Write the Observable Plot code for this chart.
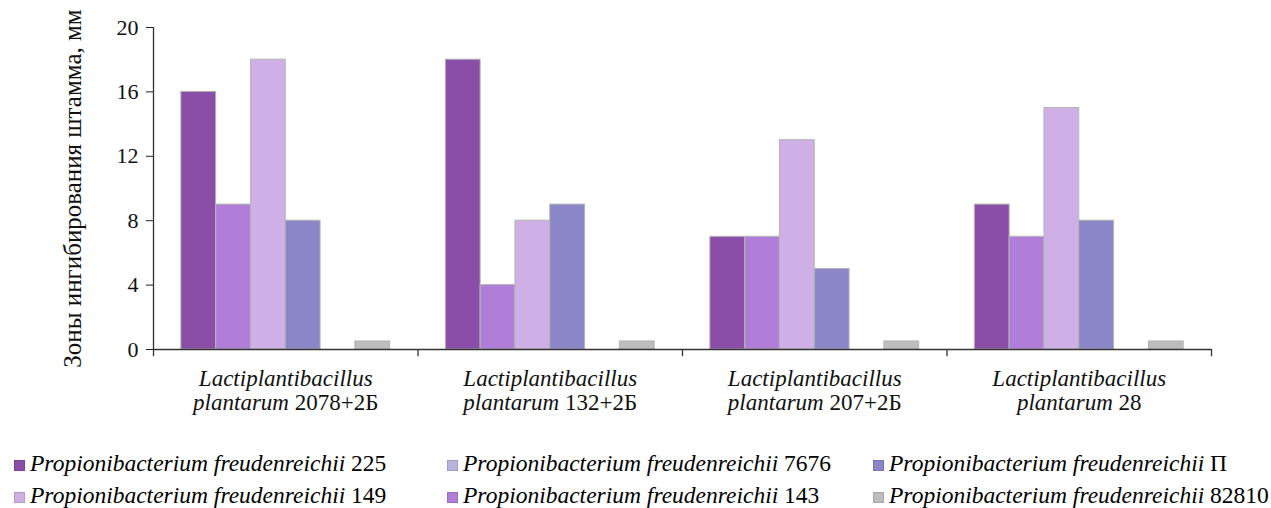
<!DOCTYPE html>
<html><head><meta charset="utf-8">
<script src="https://cdn.jsdelivr.net/npm/d3@7"></script>
<script src="https://cdn.jsdelivr.net/npm/@observablehq/plot@0.6"></script>
<style>
html,body{margin:0;padding:0;background:#fff;overflow:hidden;}
body{font-family:"Liberation Serif","Times New Roman",serif;color:#000;}
#chart{width:1271px;}
.legend{display:grid;grid-template-columns:433px 426px auto;padding-left:14px;padding-top:15px;font-size:23.5px;line-height:32px;}
.legend .item{white-space:nowrap;}
.legend .sw{display:inline-block;width:11px;height:11px;box-sizing:border-box;border:1px solid rgba(0,0,0,0.12);margin-right:5px;vertical-align:0px;}
.legend i{font-style:italic;}
</style></head><body>
<div id="chart"></div>
<script>
const groups = [
  "Lactiplantibacillus\nplantarum 2078+2Б",
  "Lactiplantibacillus\nplantarum 132+2Б",
  "Lactiplantibacillus\nplantarum 207+2Б",
  "Lactiplantibacillus\nplantarum 28"
];
const series = ["225", "143", "149", "П", "7676", "82810"];
const seriesColors = ["#8a4ea8", "#b07ed8", "#cfb0e6", "#8a86c8", "#b8b4e0", "#bdbdbd"];
const v225 = [16, 18, 7, 9];
const v143 = [9, 4, 7, 7];
const v149 = [18, 8, 13, 15];
const vP = [8, 9, 5, 8];
const v7676 = [0, 0, 0, 0];
const v82810 = [0.5, 0.5, 0.5, 0.5];
const yTicks = [0, 4, 8, 12, 16, 20];
const legendOrder = ["225", "7676", "П", "149", "143", "82810"];
const speciesName = "Propionibacterium freudenreichii";
const yLabel = "Зоны ингибирования штамма, мм";

const valuesBySeries = {"225": v225, "143": v143, "149": v149, "П": vP, "7676": v7676, "82810": v82810};
const data = [];
groups.forEach((g, i) => series.forEach(s => data.push({group: g, series: s, value: valuesBySeries[s][i]})));

const W = 1271, ML = 153, MR = 60, H = 432, MT = 27, MB = 83;
const padOuter = 0.8;
const facetW = (W - ML - MR) / groups.length;
const step = facetW / (series.length + 2 * padOuter);
const edgeOffset = step * padOuter + step / 2;

const plot = Plot.plot({
  width: W, height: H,
  marginLeft: ML, marginRight: MR, marginTop: MT, marginBottom: MB,
  style: {fontFamily: "'Liberation Serif','Times New Roman',serif", fontSize: "22px", color: "#222", background: "#fff"},
  fx: {domain: groups, padding: 0, round: false},
  x: {domain: series, paddingInner: 0, paddingOuter: padOuter, round: false, axis: null},
  y: {domain: [0, 20]},
  color: {domain: series, range: seriesColors},
  marks: [
    Plot.barY(data, {fx: "group", x: "series", y: "value", fill: "series", stroke: "#b4b4b4", strokeWidth: 1}),
    Plot.ruleY([0], {stroke: "#333", strokeWidth: 1.3}),
    Plot.ruleX([groups[0]], {fx: d => d, x: () => series[0], y1: -0.45, y2: 20, dx: -edgeOffset, stroke: "#333", strokeWidth: 1.3}),
    Plot.ruleX(groups.slice(1), {fx: d => d, x: () => series[0], y1: -0.45, y2: 0, dx: -edgeOffset, stroke: "#333", strokeWidth: 1.3}),
    Plot.ruleX([groups[groups.length - 1]], {fx: d => d, x: () => series[series.length - 1], y1: -0.45, y2: 0, dx: edgeOffset, stroke: "#333", strokeWidth: 1.3}),
    Plot.axisY({ticks: yTicks, tickSize: 7, tickPadding: 8, fill: "#111", label: null}),
    Plot.axisY({ticks: [], tickSize: 0, label: yLabel, labelAnchor: "center", labelArrow: "none", labelOffset: 90, fontSize: 25, fill: "#111"}),
    Plot.axisFx({anchor: "bottom", tickSize: 0, tickPadding: 19, label: null, lineHeight: 1.05, fontSize: 23, fill: "#111"})
  ]
});

// italicize the genus/species words in facet labels
d3.select(plot).selectAll('g[aria-label="fx-axis tick label"] text').each(function() {
  const tsp = d3.select(this).selectAll("tspan").nodes();
  const lines = tsp.length ? tsp : [this];
  lines.forEach(node => {
    const s = node.textContent;
    const k = s.indexOf(" ");
    node.textContent = "";
    const sel = d3.select(node);
    sel.append("tspan").attr("font-style", "italic").text(k < 0 ? s : s.slice(0, k));
    if (k >= 0) sel.append("tspan").text(s.slice(k));
  });
});

document.getElementById("chart").appendChild(plot);

const legend = d3.select("#chart").append("div").attr("class", "legend");
legendOrder.forEach(s => {
  const it = legend.append("div").attr("class", "item");
  it.append("span").attr("class", "sw").style("background", seriesColors[series.indexOf(s)]);
  it.append("i").text(speciesName);
  it.append("span").text(" " + s);
});
</script>
</body></html>
